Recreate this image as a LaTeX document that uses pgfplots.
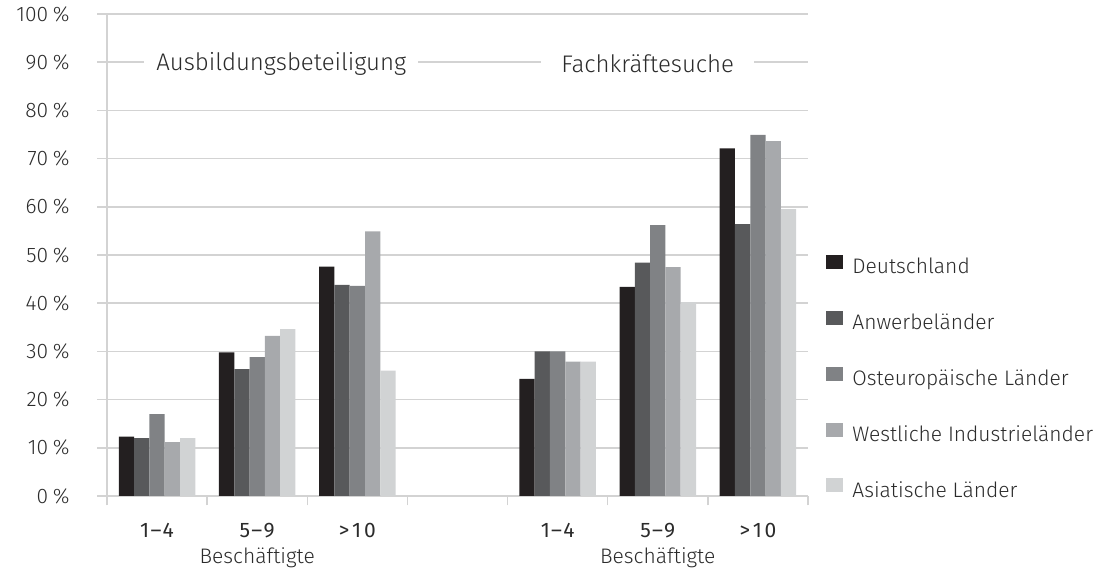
\documentclass[border=0pt]{standalone}
\usepackage{fontspec}
\setmainfont{Fira Sans}[UprightFont={* Light}]
\newfontfamily\firareg{Fira Sans}
\usepackage{pgfplots}
\pgfplotsset{compat=1.18}
\definecolor{cA}{HTML}{231F20}
\definecolor{cB}{HTML}{58595B}
\definecolor{cC}{HTML}{808285}
\definecolor{cD}{HTML}{A7A9AC}
\definecolor{cE}{HTML}{D1D3D4}
\definecolor{gridc}{HTML}{D3D3D3}
\definecolor{txt}{HTML}{2B2B2B}
\newcommand{\sm}{\fontsize{10.5}{12}\selectfont}
\newcommand{\ts}{\hspace{0.13em}}
\newcommand{\ds}{\hspace{0.06em}–\hspace{0.06em}}
\begin{document}
\begin{tikzpicture}
\begin{axis}[
    scale only axis,
    width=350.5pt, height=241pt,
    xmin=-0.5, xmax=6.5, ymin=0, ymax=100,
    clip=false,
    ybar=0pt, bar width=7.65pt,
    axis x line*=bottom, axis y line*=left,
    axis line style={gridc, line width=0.75pt},
    ytick={0,10,...,100},
    ymajorgrids,
    grid style={gridc, line width=0.75pt},
    tick align=outside,
    major tick length=4.75pt,
    tick style={gridc, line width=0.75pt},
    /pgf/number format/assume math mode=true,
    yticklabel={\pgfmathprintnumber{\tick}\hspace{0.22em}\%},
    yticklabel style={font=\sm, text=txt, xshift=-10.5pt},
    xtick={-0.5,0.5,...,6.5},
    xticklabels={},
    extra x ticks={0,1,2,4,5,6},
    extra x tick labels={1\ds4,5\ds9,>\ts1\ts0,1\ds4,5\ds9,>\ts1\ts0},
    extra x tick style={tick style={draw=none},
        xticklabel style={font=\firareg\sm, text=txt, yshift=-5.5pt}},
    legend style={at={(axis description cs:1,0)}, anchor=south west,
        xshift=9pt, yshift=-2.5pt, draw=none, fill=none, inner sep=0pt,
        row sep=16.9pt, column sep=4.5pt, font=\sm, text=txt,
        nodes={inner sep=0pt, text height=6.5pt, text depth=1.6pt}},
    legend cell align=left,
    legend image code/.code={\fill[#1] (0pt,0pt) rectangle (8.5pt,7pt);},
]
\addplot[fill=cA, draw=none] coordinates {(0,12.3) (1,29.8) (2,47.6) (4,24.3) (5,43.4) (6,72.1)};
\addplot[fill=cB, draw=none] coordinates {(0,12.0) (1,26.3) (2,43.8) (4,30.0) (5,48.4) (6,56.4)};
\addplot[fill=cC, draw=none] coordinates {(0,17.0) (1,28.8) (2,43.6) (4,30.0) (5,56.2) (6,74.9)};
\addplot[fill=cD, draw=none] coordinates {(0,11.2) (1,33.2) (2,54.9) (4,27.9) (5,47.5) (6,73.6)};
\addplot[fill=cE, draw=none] coordinates {(0,12.0) (1,34.6) (2,26.0) (4,27.9) (5,40.2) (6,59.5)};
\legend{Deutschland, Anwerbeländer, Osteuropäische Länder, Westliche Industrieländer, Asiatische Länder}
\node[fill=white, inner xsep=6pt, text=txt, font=\fontsize{12}{14}\selectfont, yshift=-1pt] at (axis cs:1.24,90) {Ausbildungsbeteiligung};
\node[fill=white, inner xsep=10pt, text=txt, font=\fontsize{12}{14}\selectfont, yshift=-1pt] at (axis cs:4.9,90) {Fachkräftesuche};
\node[text=txt, font=\sm] at ([yshift=-31pt]axis cs:1,0) {Beschäftigte};
\node[text=txt, font=\sm] at ([yshift=-31pt]axis cs:5,0) {Beschäftigte};
\end{axis}
\pgfresetboundingbox
\path ([xshift=-53.5pt,yshift=-37pt]current axis.south west) rectangle ([xshift=143pt,yshift=7pt]current axis.north east);
\end{tikzpicture}
\end{document}
